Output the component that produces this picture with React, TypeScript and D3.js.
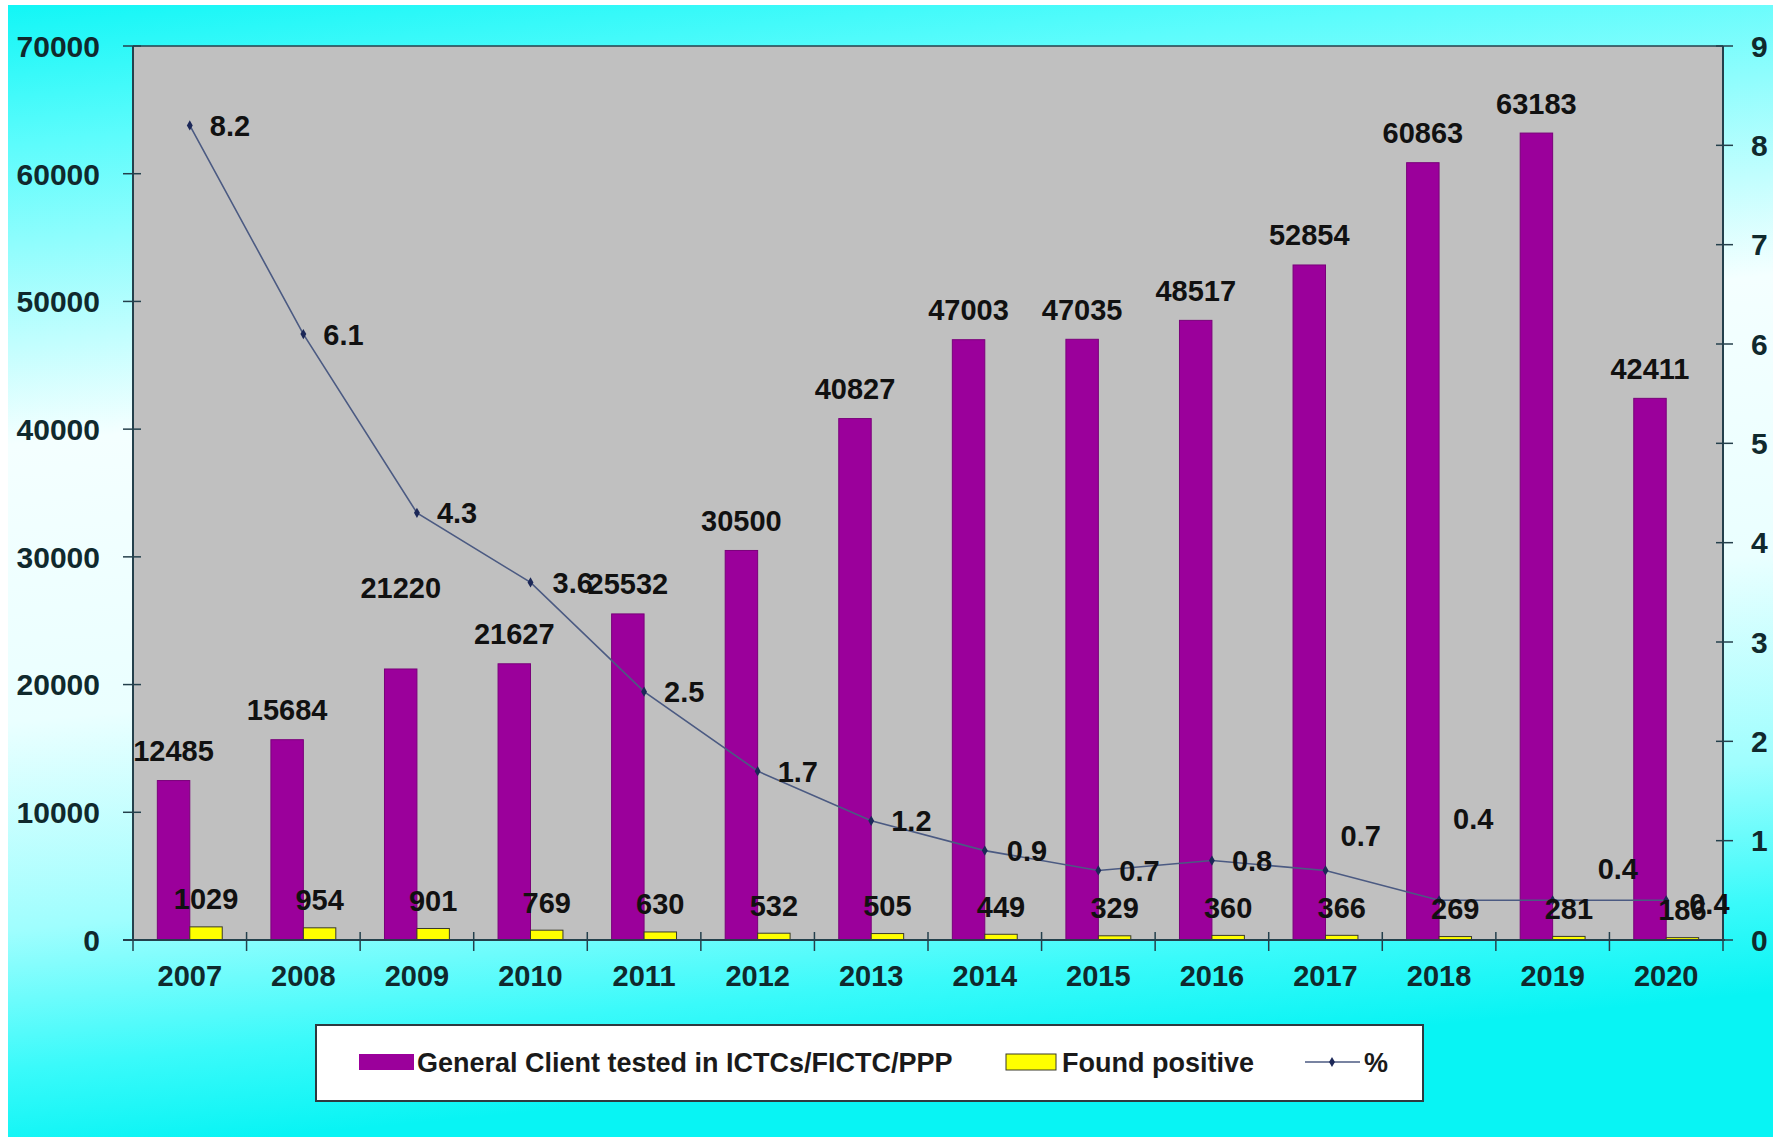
import React from "react";
import * as d3 from "d3";

// chart values
const years = ["2007", "2008", "2009", "2010", "2011", "2012", "2013", "2014", "2015", "2016", "2017", "2018", "2019", "2020"];
const tested = [12485, 15684, 21220, 21627, 25532, 30500, 40827, 47003, 47035, 48517, 52854, 60863, 63183, 42411];
const positive = [1029, 954, 901, 769, 630, 532, 505, 449, 329, 360, 366, 269, 281, 186];
const percent = [8.2, 6.1, 4.3, 3.6, 2.5, 1.7, 1.2, 0.9, 0.7, 0.8, 0.7, 0.4, 0.4, 0.4];
const leftTicks = [0, 10000, 20000, 30000, 40000, 50000, 60000, 70000];
const rightTicks = [0, 1, 2, 3, 4, 5, 6, 7, 8, 9];
const legendNames = ["General Client tested in ICTCs/FICTC/PPP", "Found positive", "%"];

// hand-moved data labels (as in the original slide)
const testedLabelShift = [0, 0, -51, 0, 0, 0, 0, 0, 0, 0, 0, 0, 0, 0];
const pctLabelShift: [number, number][] = [
  [0, 0], [0, 0], [0, 0], [2, 0], [0, 0], [0, 0], [0, 0],
  [2, 0], [1, 0], [0, 0], [-5, -35], [-6, -82], [25, -32], [3, 3],
];

const W = 1765;
const H = 1132;
const left = 133;
const right = 1723;
const top = 46;
const bottom = 940;

const PURPLE = "#9b009b";
const YELLOW = "#ffff00";
const LINE = "#4b5a82";
const AXIS = "#24404c";
const TICK_TEXT = "#10292d";
const FONT = "'Liberation Sans', Arial, sans-serif";

export default function App() {
  const x = d3.scaleBand().domain(years).range([left, right]).padding(0);
  const yL = d3.scaleLinear().domain([0, 70000]).range([bottom, top]);
  const yR = d3.scaleLinear().domain([0, 9]).range([bottom, top]);
  const bw = x.bandwidth();
  const barW = bw / 3.5; // excel gap width 150%
  const cx = (y: string) => (x(y) as number) + bw / 2;

  const line = d3
    .line<number>()
    .x((_, i) => cx(years[i]))
    .y((d) => yR(d));

  const diamond = d3.symbol().type(d3.symbolDiamond).size(30)();

  return (
    <svg
      width={W}
      height={H}
      viewBox={`8 5 ${W} ${H}`}
      style={{ position: "absolute", left: 8, top: 5, fontFamily: FONT }}
    >
      <defs>
        <linearGradient id="bg" x1="0" y1="0" x2="0.15" y2="1">
          <stop offset="0" stopColor="#12f6f6" />
          <stop offset="0.12" stopColor="#5cfcfc" />
          <stop offset="0.38" stopColor="#f4ffff" />
          <stop offset="0.62" stopColor="#eaffff" />
          <stop offset="0.8" stopColor="#9ffefe" />
          <stop offset="0.92" stopColor="#3afafa" />
          <stop offset="1" stopColor="#08f4f4" />
        </linearGradient>
      </defs>
      <rect x={8} y={5} width={W} height={H} fill="url(#bg)" />

      {/* plot area */}
      <rect x={left} y={top} width={right - left} height={bottom - top} fill="#c0c0c0" />
      <line x1={left} x2={right} y1={top} y2={top} stroke={AXIS} strokeWidth={1.5} />

      {/* bars */}
      {years.map((y, i) => (
        <g key={"b" + y}>
          <rect
            x={cx(y) - barW}
            y={yL(tested[i])}
            width={barW}
            height={bottom - yL(tested[i])}
            fill={PURPLE}
            stroke="#7a007a"
            strokeWidth={1}
          />
          <rect
            x={cx(y)}
            y={yL(positive[i])}
            width={barW}
            height={bottom - yL(positive[i])}
            fill={YELLOW}
            stroke="#3a3a2a"
            strokeWidth={1}
          />
        </g>
      ))}

      {/* percentage line */}
      <path d={line(percent) || ""} fill="none" stroke={LINE} strokeWidth={1.6} />
      {percent.map((p, i) => (
        <path
          key={"m" + i}
          d={diamond || ""}
          transform={`translate(${cx(years[i])},${yR(p)})`}
          fill="#1c2858"
        />
      ))}

      {/* axes */}
      <line x1={left} x2={left} y1={top} y2={bottom} stroke={AXIS} strokeWidth={2} />
      <line x1={right} x2={right} y1={top} y2={bottom} stroke={AXIS} strokeWidth={2} />
      <line x1={left - 10} x2={right + 2} y1={bottom} y2={bottom} stroke={AXIS} strokeWidth={2} />
      {leftTicks.map((t) => (
        <g key={"lt" + t}>
          <line x1={left - 10} x2={left + 8} y1={yL(t)} y2={yL(t)} stroke={AXIS} strokeWidth={1.5} />
          <text
            x={100}
            y={yL(t)}
            dy="0.36em"
            textAnchor="end"
            fontSize={30}
            fontWeight="bold"
            fill={TICK_TEXT}
          >
            {t}
          </text>
        </g>
      ))}
      {rightTicks.map((t) => (
        <g key={"rt" + t}>
          <line x1={right - 7} x2={right + 10} y1={yR(t)} y2={yR(t)} stroke={AXIS} strokeWidth={1.5} />
          <text x={1751} y={yR(t)} dy="0.36em" fontSize={30} fontWeight="bold" fill={TICK_TEXT}>
            {t}
          </text>
        </g>
      ))}
      {years.map((y) => (
        <g key={"xt" + y}>
          <line
            x1={(x(y) as number) + bw}
            x2={(x(y) as number) + bw}
            y1={bottom - 8}
            y2={bottom + 11}
            stroke={AXIS}
            strokeWidth={1.5}
          />
          <text x={cx(y)} y={976} dy="0.36em" textAnchor="middle" fontSize={29} fontWeight="bold" fill={TICK_TEXT}>
            {y}
          </text>
        </g>
      ))}
      <line x1={left} x2={left} y1={bottom} y2={bottom + 11} stroke={AXIS} strokeWidth={1.5} />

      {/* data labels */}
      {years.map((y, i) => (
        <g key={"dl" + y} fontSize={29} fontWeight="bold" fill="#111">
          <text
            x={cx(y) - barW / 2}
            y={yL(tested[i]) - 30 + testedLabelShift[i]}
            dy="0.36em"
            textAnchor="middle"
          >
            {tested[i]}
          </text>
          <text x={cx(y) + barW / 2} y={yL(positive[i]) - 28} dy="0.36em" textAnchor="middle">
            {positive[i]}
          </text>
          <text
            x={cx(y) + 20 + pctLabelShift[i][0]}
            y={yR(percent[i]) + pctLabelShift[i][1]}
            dy="0.36em"
          >
            {percent[i]}
          </text>
        </g>
      ))}

      {/* legend */}
      <rect x={316} y={1025} width={1107} height={76} fill="#ffffff" stroke="#2e3a40" strokeWidth={2} />
      <g fontSize={27} fontWeight="bold" fill="#1a1a1a">
        <rect x={359} y={1054} width={55} height={16} fill={PURPLE} />
        <text x={417} y={1062} dy="0.36em">
          {legendNames[0]}
        </text>
        <rect x={1006} y={1054} width={50} height={16} fill={YELLOW} stroke="#3a3a2a" strokeWidth={1} />
        <text x={1062} y={1062} dy="0.36em">
          {legendNames[1]}
        </text>
        <line x1={1305} x2={1360} y1={1062} y2={1062} stroke={LINE} strokeWidth={1.6} />
        <path d={diamond || ""} transform="translate(1332,1062)" fill="#1c2858" />
        <text x={1364} y={1062} dy="0.36em">
          {legendNames[2]}
        </text>
      </g>
    </svg>
  );
}
